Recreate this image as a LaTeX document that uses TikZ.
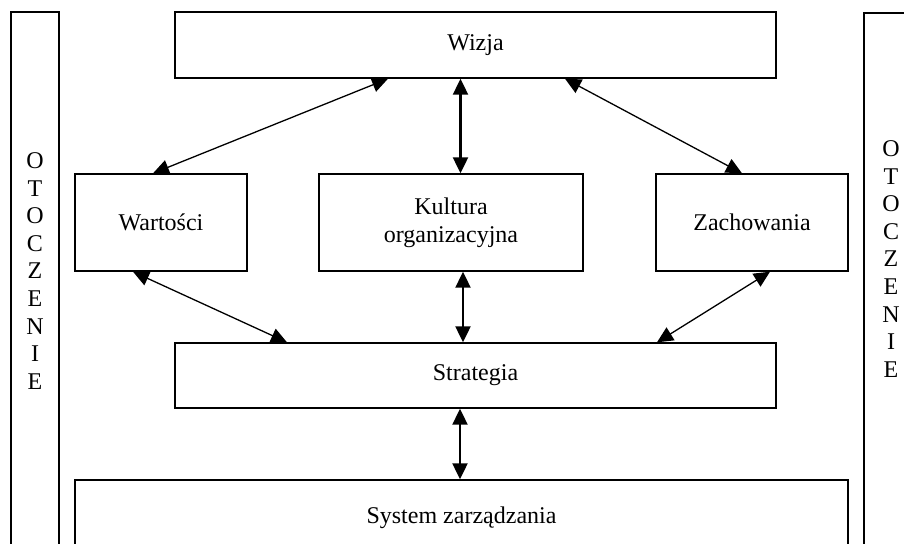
\documentclass[tikz,border=0pt]{standalone}
\usepackage{fontspec}
\setmainfont{Liberation Serif}
\usetikzlibrary{arrows.meta}
\tikzset{
  blok/.style={rectangle, draw=black, line width=0.7pt, fill=white, align=center, inner sep=0pt},
  boczny/.style={rectangle, draw=black, line width=0.7pt, minimum width=24pt, minimum height=290pt},
  pion/.style={align=center, font=\fontsize{12}{13.8}\selectfont},
  strz/.style={line width=0.65pt, {Triangle[length=8pt,width=7.5pt]}-{Triangle[length=8pt,width=7.5pt]}},
  grubastrz/.style={line width=1.1pt, {Triangle[length=8pt,width=7.5pt]}-{Triangle[length=8pt,width=7.5pt]}}
}
\begin{document}
\begin{tikzpicture}[x=0.5pt, y=-0.5pt, font=\fontsize{12}{14}\selectfont]
		\useasboundingbox (0,0) rectangle (904,543);
		\clip (0,0) rectangle (904,543);
		% otoczenie po bokach
		\node (otoczL) [boczny] at (35,302) {};
		\node (tekstL) [pion] at (35,271) {O\\T\\O\\C\\Z\\E\\N\\I\\E};
		\node (otoczP) [boczny] at (888,303) {};
		\node (tekstP) [pion] at (891,259) {O\\T\\O\\C\\Z\\E\\N\\I\\E};

		\node (wizja) [blok, minimum width=300.5pt, minimum height=33pt] at (475.5,45) {Wizja};
		\node (wartosci) [blok, minimum width=86pt, minimum height=48.5pt] at (161,222.5) {Wartości};
		\node (kultura) [blok, minimum width=132pt, minimum height=48.5pt] at (451,222.5) {Kultura\\organizacyjna};
		\node (zachowania) [blok, minimum width=96pt, minimum height=48.5pt] at (752,222.5) {Zachowania};
		\node (strategia) [blok, minimum width=300.5pt, minimum height=32.5pt] at (475.5,375.5) {Strategia};
		\node (system) [blok, minimum width=386.5pt, minimum height=38pt] at (461.5,518) {System zarządzania};

		\draw [strz] ([xshift=-43.75pt]wizja.south) -- ([xshift=-4pt]wartosci.north);
		\draw [strz] ([xshift=44.75pt]wizja.south) -- ([xshift=-5pt]zachowania.north);
		\draw [grubastrz] ([xshift=-7.5pt]wizja.south) -- ([xshift=4.75pt]kultura.north);
		\draw [strz] ([xshift=-14pt]wartosci.south) -- ([xshift=-94.25pt]strategia.north);
		\draw [strz] ([xshift=9pt]zachowania.south) -- ([xshift=90.75pt]strategia.north);
		\draw [grubastrz] ([xshift=6pt]kultura.south) -- ([xshift=-6.25pt]strategia.north);
		\draw [grubastrz] ([xshift=-7.75pt]strategia.south) -- ([xshift=-0.75pt]system.north);
	\end{tikzpicture}
\end{document}
